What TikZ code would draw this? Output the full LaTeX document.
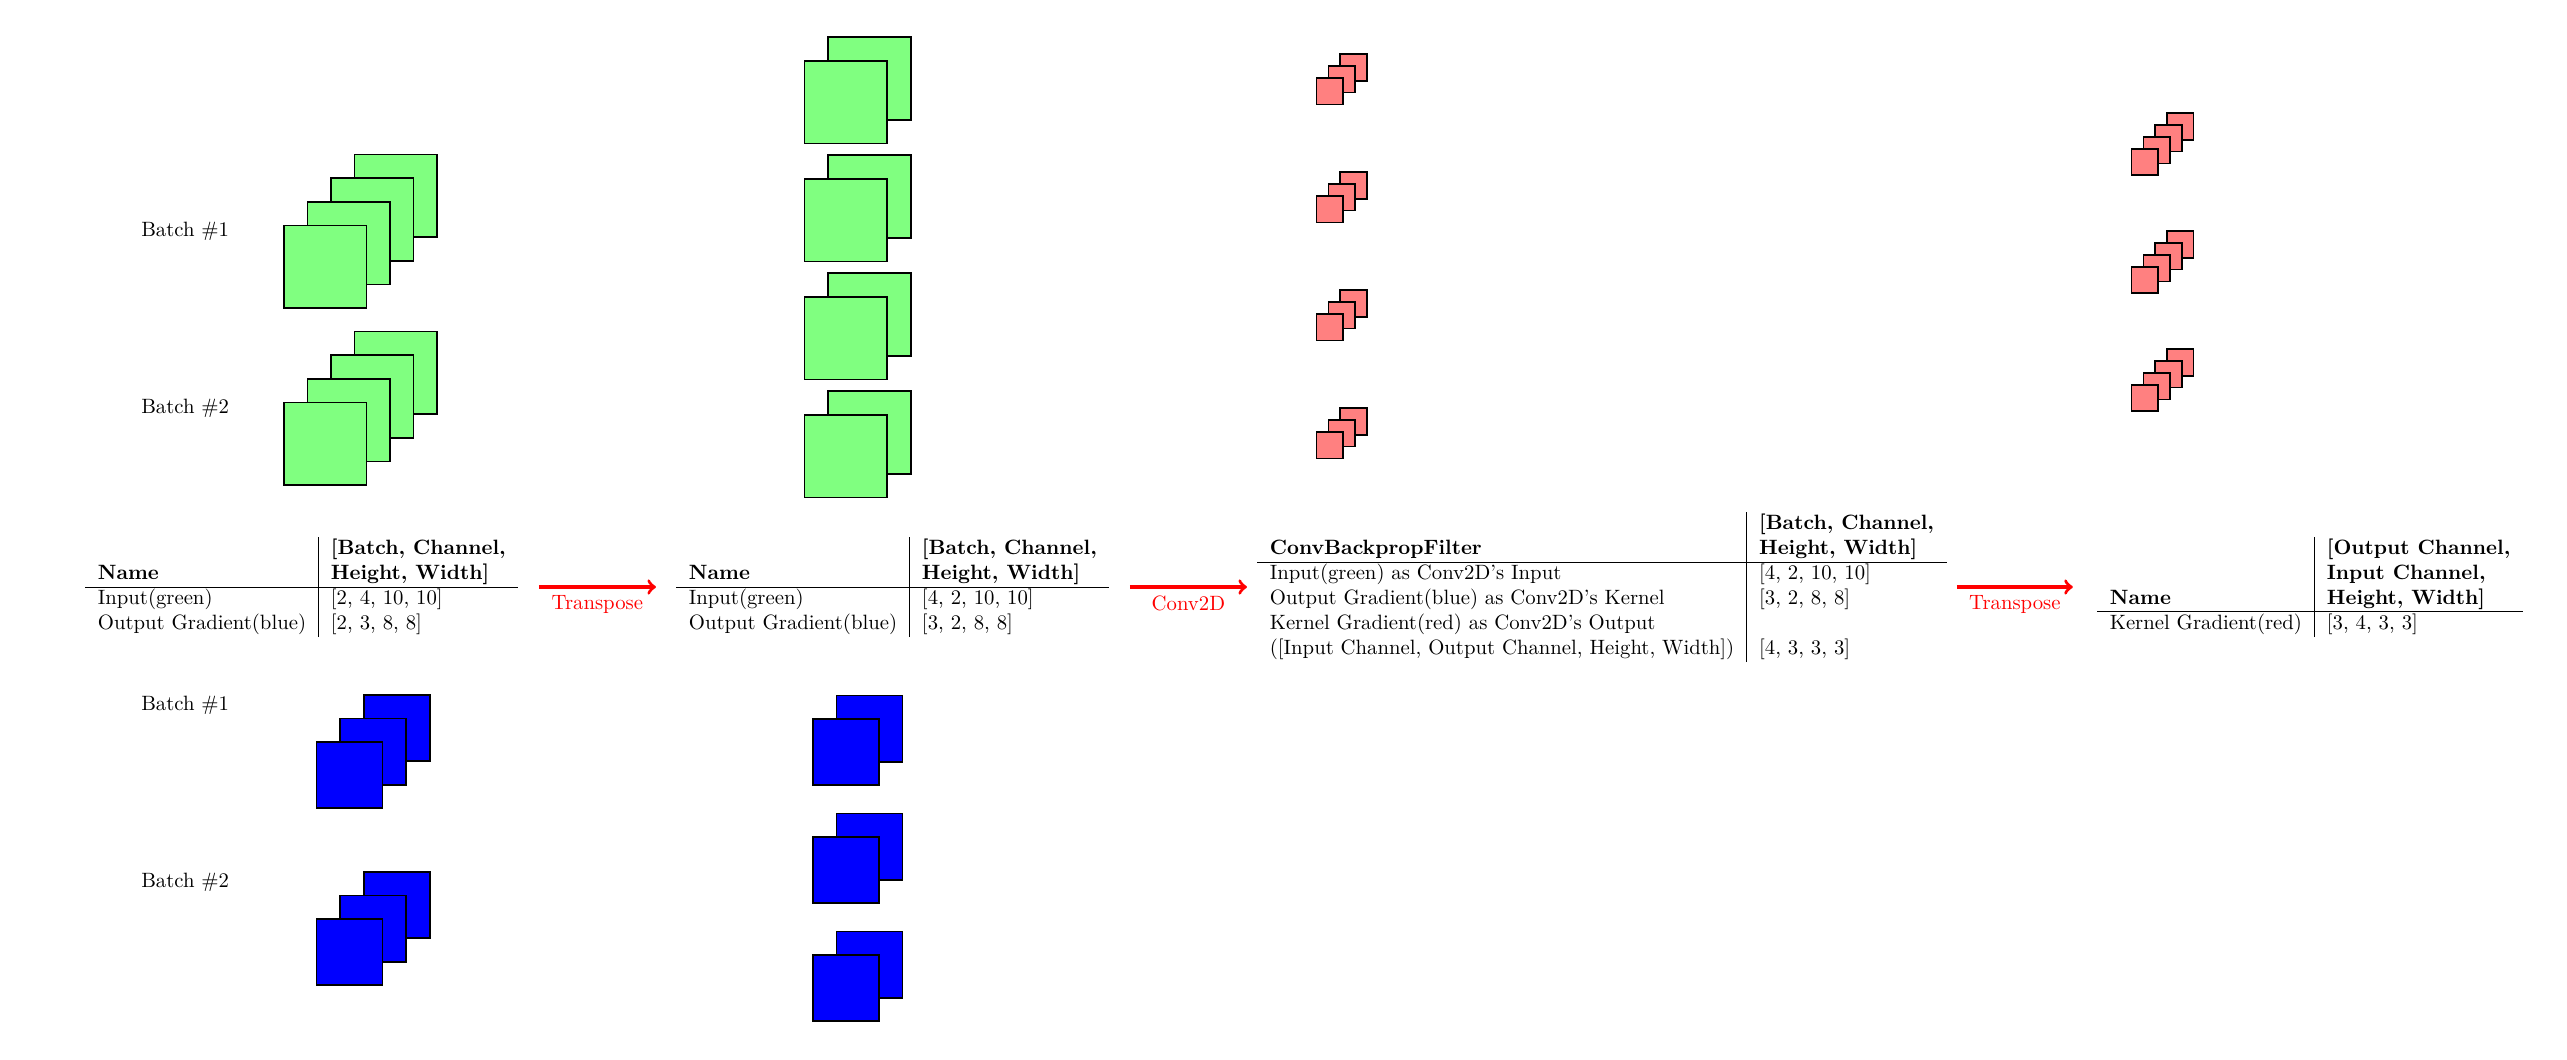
\documentclass[tikz,border=0pt]{standalone}
\usepackage{amsmath,amssymb}
\usepackage{tikz}
\usetikzlibrary{calc}

\newcommand{\headcell}[1]{\begin{tabular}[b]{@{}l@{}}#1\end{tabular}}

\begin{document}
\begin{tikzpicture}[
        gsq/.style={draw=black, thick, fill=green!50},
        bsq/.style={draw=black, thick, fill=blue},
        rsq/.style={draw=black, thick, fill=red!50},
        flow/.style={->, red, ultra thick},
        tab/.style={inner sep=0pt, anchor=west}]
        \useasboundingbox (0,0) rectangle (43.508,-17.966);

        % input (green), two batches
        \foreach \y in {-5.22,-8.22}
            \foreach \k in {3,2,1,0}
                \draw[gsq] ({4.81+0.4*\k},{\y+0.4*\k}) rectangle ++(1.4,1.4);
        \node[anchor=west] (gbatchA) at (2.27,-3.915) {Batch \#1};
        \node[anchor=west] (gbatchB) at (2.27,-6.915) {Batch \#2};

        % output gradient (blue), two batches
        \foreach \y in {-13.70,-16.70}
            \foreach \k in {2,1,0}
                \draw[bsq] ({5.364+0.4*\k},{\y+0.4*\k}) rectangle ++(1.12,1.12);
        \node[anchor=west] (bbatchA) at (2.27,-11.95) {Batch \#1};
        \node[anchor=west] (bbatchB) at (2.27,-14.95) {Batch \#2};

        % transposed input and output gradient
        \foreach \y in {-2.43,-4.43,-6.43,-8.43}
            \foreach \k in {1,0}
                \draw[gsq] ({13.635+0.4*\k},{\y+0.4*\k}) rectangle ++(1.4,1.4);
        \foreach \y in {-13.31,-15.31,-17.31}
            \foreach \k in {1,0}
                \draw[bsq] ({13.776+0.4*\k},{\y+0.4*\k}) rectangle ++(1.12,1.12);

        % kernel gradient (red)
        \foreach \y in {-1.77,-3.77,-5.77,-7.77}
            \foreach \k in {2,1,0}
                \draw[rsq] ({22.314+0.2*\k},{\y+0.2*\k}) rectangle ++(0.45,0.45);
        \foreach \y in {-2.97,-4.97,-6.97}
            \foreach \k in {3,2,1,0}
                \draw[rsq] ({36.127+0.2*\k},{\y+0.2*\k}) rectangle ++(0.45,0.45);

        % shape tables
        \node[tab] (tabA) at (1.441,-9.949) {\begin{tabular}{l|l}
            \textbf{Name} & \textbf{\headcell{[Batch, Channel,\\Height, Width]}} \\ \hline
            Input(green) & [2, 4, 10, 10] \\
            Output Gradient(blue) & [2, 3, 8, 8]
        \end{tabular}};
        \node[tab] (tabB) at (11.458,-9.949) {\begin{tabular}{l|l}
            \textbf{Name} & \textbf{\headcell{[Batch, Channel,\\Height, Width]}} \\ \hline
            Input(green) & [4, 2, 10, 10] \\
            Output Gradient(blue) & [3, 2, 8, 8]
        \end{tabular}};
        \node[tab] (tabC) at (21.305,-9.949) {\begin{tabular}{l|l}
            \textbf{ConvBackpropFilter} & \textbf{\headcell{[Batch, Channel,\\Height, Width]}} \\ \hline
            Input(green) as Conv2D's Input & [4, 2, 10, 10] \\
            Output Gradient(blue) as Conv2D's Kernel & [3, 2, 8, 8] \\
            Kernel Gradient(red) as Conv2D's Output & \\
            ([Input Channel, Output Channel, Height, Width]) & [4, 3, 3, 3]
        \end{tabular}};
        \node[tab] (tabD) at (35.542,-9.949) {\begin{tabular}{l|l}
            \textbf{Name} & \textbf{\headcell{[Output Channel,\\Input Channel,\\Height, Width]}} \\ \hline
            Kernel Gradient(red) & [3, 4, 3, 3]
        \end{tabular}};

        \draw[flow] ([xshift=0.34cm]tabA.east) -- ([xshift=-0.34cm]tabB.west) node[midway, below] (opA) {Transpose};
        \draw[flow] ([xshift=0.34cm]tabB.east) -- ([xshift=-0.17cm]tabC.west) node[midway, below] (opB) {Conv2D};
        \draw[flow] ([xshift=0.17cm]tabC.east) -- ([xshift=-0.41cm]tabD.west) node[midway, below] (opC) {Transpose};
    \end{tikzpicture}
\end{document}
